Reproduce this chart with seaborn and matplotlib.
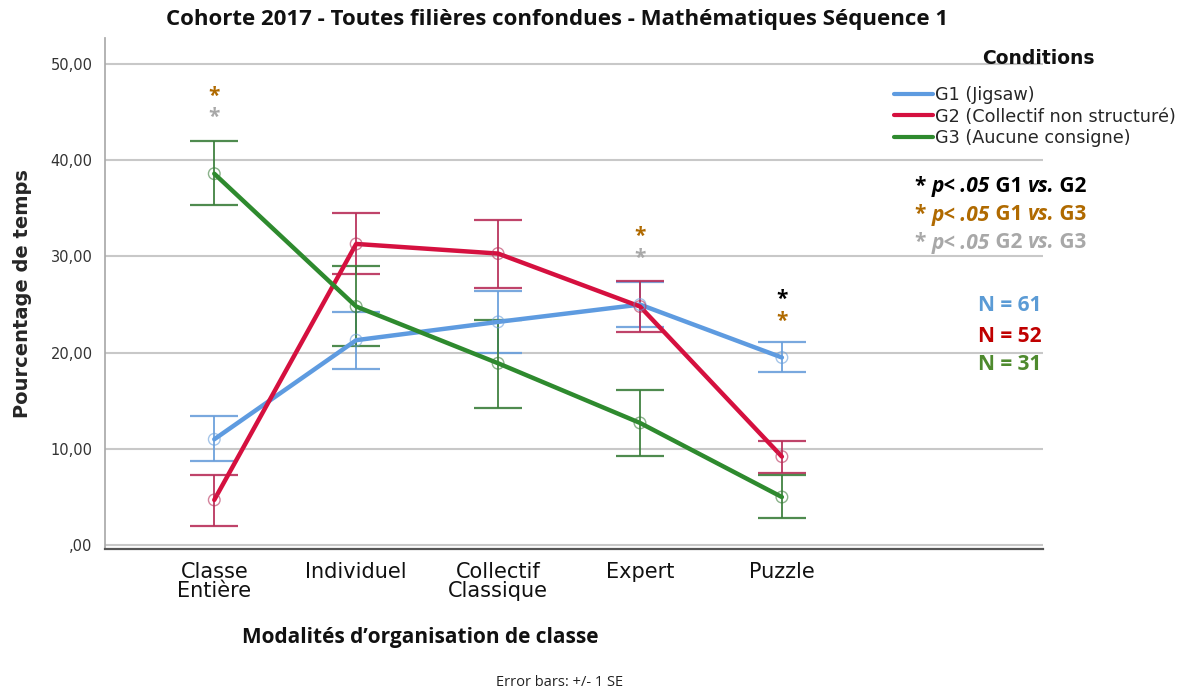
import matplotlib
matplotlib.use("Agg")
import matplotlib.pyplot as plt
import numpy as np
import pandas as pd
import seaborn as sns

categories = ["Classe\nEntière", "Individuel", "Collectif\nClassique", "Expert", "Puzzle"]
groups = ["G1 (Jigsaw)", "G2 (Collectif non structuré)", "G3 (Aucune consigne)"]

g1_mean = [11.0, 21.3, 23.2, 25.0, 19.5]
g1_low = [8.7, 18.3, 20.0, 22.7, 18.0]
g1_high = [13.4, 24.2, 26.4, 27.3, 21.1]

g2_mean = [4.7, 31.3, 30.3, 24.8, 9.2]
g2_low = [2.0, 28.2, 26.7, 22.1, 7.5]
g2_high = [7.3, 34.5, 33.8, 27.4, 10.8]

g3_mean = [38.6, 24.8, 18.9, 12.7, 5.0]
g3_low = [35.3, 20.7, 14.3, 9.3, 2.8]
g3_high = [42.0, 29.0, 23.4, 16.1, 7.3]

# significance stars: (category index, y, colour)
stars = [(0, 46.6, "#B06A00"), (0, 44.4, "#A8A8A8"),
         (3, 32.1, "#B06A00"), (3, 29.8, "#A8A8A8"),
         (4, 25.5, "black"), (4, 23.2, "#B06A00")]
n_labels = ["N = 61", "N = 52", "N = 31"]

colors = ["#5E9BE0", "#D5103F", "#2E8A2E"]
bar_colors = ["#6A9FDB", "#B8305A", "#3C7F3C"]

sns.set_theme(style="white")
plt.rcParams["font.family"] = ["DejaVu Sans"]
narrow = ["Open Sans", "DejaVu Sans"]

rows = []
for g, m in zip(groups, [g1_mean, g2_mean, g3_mean]):
    for c, v in zip(categories, m):
        rows.append({"cat": c, "val": v, "grp": g})
df = pd.DataFrame(rows)

fig = plt.figure(figsize=(11.89, 6.93), dpi=100)
ax = fig.add_axes([105 / 1189, 1 - 549 / 693, (1043 - 105) / 1189, (549 - 38) / 693])

for y in range(0, 60, 10):
    ax.axhline(y, color="#C8C8C8", lw=1.5, zorder=0)

sns.lineplot(data=df, x="cat", y="val", hue="grp", palette=colors, lw=3.2,
             sort=False, ax=ax, zorder=3)

xs = np.arange(len(categories))
for i, (m, lo, hi) in enumerate([(g1_mean, g1_low, g1_high),
                                 (g2_mean, g2_low, g2_high),
                                 (g3_mean, g3_low, g3_high)]):
    m = np.array(m)
    ax.errorbar(xs, m, yerr=[m - np.array(lo), np.array(hi) - m], fmt="none",
                ecolor=bar_colors[i], elinewidth=1.4, capsize=17, capthick=1.6,
                alpha=0.9, zorder=2)
    ax.scatter(xs, m, s=70, facecolors="none", edgecolors=bar_colors[i],
               linewidths=1.0, alpha=0.6, zorder=4)

for ci, y, c in stars:
    ax.text(ci, y, "*", color=c, ha="center", va="center", fontsize=15,
            fontweight="bold", family=narrow)

ax.set_xlim(-0.77, 5.84)
ax.set_ylim(-0.4, 52.7)
ax.set_yticks(range(0, 60, 10))
ax.set_yticklabels([",00" if v == 0 else f"{v:.2f}".replace(".", ",") for v in range(0, 60, 10)],
                   fontsize=10.5, color="#333333")
ax.set_xticks(xs)
ax.set_xticklabels(categories, fontsize=15, color="#111111", linespacing=0.95)
ax.tick_params(axis="y", length=4, color="#999999", pad=5)
ax.tick_params(axis="x", length=0, pad=9)
ax.set_xlabel("")
ax.set_ylabel("Pourcentage de temps", fontsize=14, fontweight="bold", labelpad=13)
for s in ["top", "right"]:
    ax.spines[s].set_visible(False)
ax.spines["left"].set_color("#AAAAAA")
ax.spines["bottom"].set_color("#555555")
ax.spines["bottom"].set_linewidth(1.6)

leg = ax.legend(loc="upper left", bbox_to_anchor=(894 / 1189, 1 - 86 / 693),
                bbox_transform=fig.transFigure, frameon=False, fontsize=12.7,
                handlelength=2.2, handletextpad=0.15, labelspacing=0.2,
                borderaxespad=0, borderpad=0)
for line in leg.get_lines():
    line.set_linewidth(3)
fig.text(1038 / 1189, 1 - 58 / 693, "Conditions", fontsize=13.5, fontweight="bold",
         ha="center", va="center", color="#111111")

# p-value key, mixing bold and bold italic pieces
key = [("black", 187), ("#B06A00", 215), ("#A8A8A8", 243)]
pairs = [("G1", "G2"), ("G1", "G3"), ("G2", "G3")]
for (c, ypix), (a, b) in zip(key, pairs):
    parts = [("* ", "normal"), ("p< .05", "italic"), (f" {a} ", "normal"),
             ("vs.", "italic"), (f" {b}", "normal")]
    prev = None
    for txt, st in parts:
        if prev is None:
            prev = fig.text(915 / 1189, 1 - ypix / 693, txt, color=c, fontsize=15,
                            fontweight="bold", style=st, va="center", ha="left",
                            family=narrow)
        else:
            prev = ax.annotate(txt, xy=(1, 0), xycoords=prev, color=c, fontsize=15,
                               fontweight="bold", style=st, va="bottom", ha="left",
                               family=narrow)

for lbl, c, ypix in zip(n_labels, ["#5B9BD5", "#C00000", "#4E8A2E"], [306, 336, 365]):
    fig.text(1010 / 1189, 1 - ypix / 693, lbl, color=c, fontsize=15, fontweight="bold",
             ha="center", va="center", family=narrow)

fig.text(557 / 1189, 1 - 20 / 693, "Cohorte 2017 - Toutes filières confondues - Mathématiques Séquence 1",
         fontsize=16, fontweight="bold", ha="center", va="center", color="#111111",
         family=narrow)
fig.text(420 / 1189, 1 - 637 / 693, "Modalités d’organisation de classe", fontsize=15,
         fontweight="bold", ha="center", va="center", color="#111111", family=narrow)
fig.text(560 / 1189, 1 - 683 / 693, "Error bars: +/- 1 SE", fontsize=10.5,
         ha="center", va="center", color="#222222", family=narrow)

fig.savefig("out.png", dpi=100)
